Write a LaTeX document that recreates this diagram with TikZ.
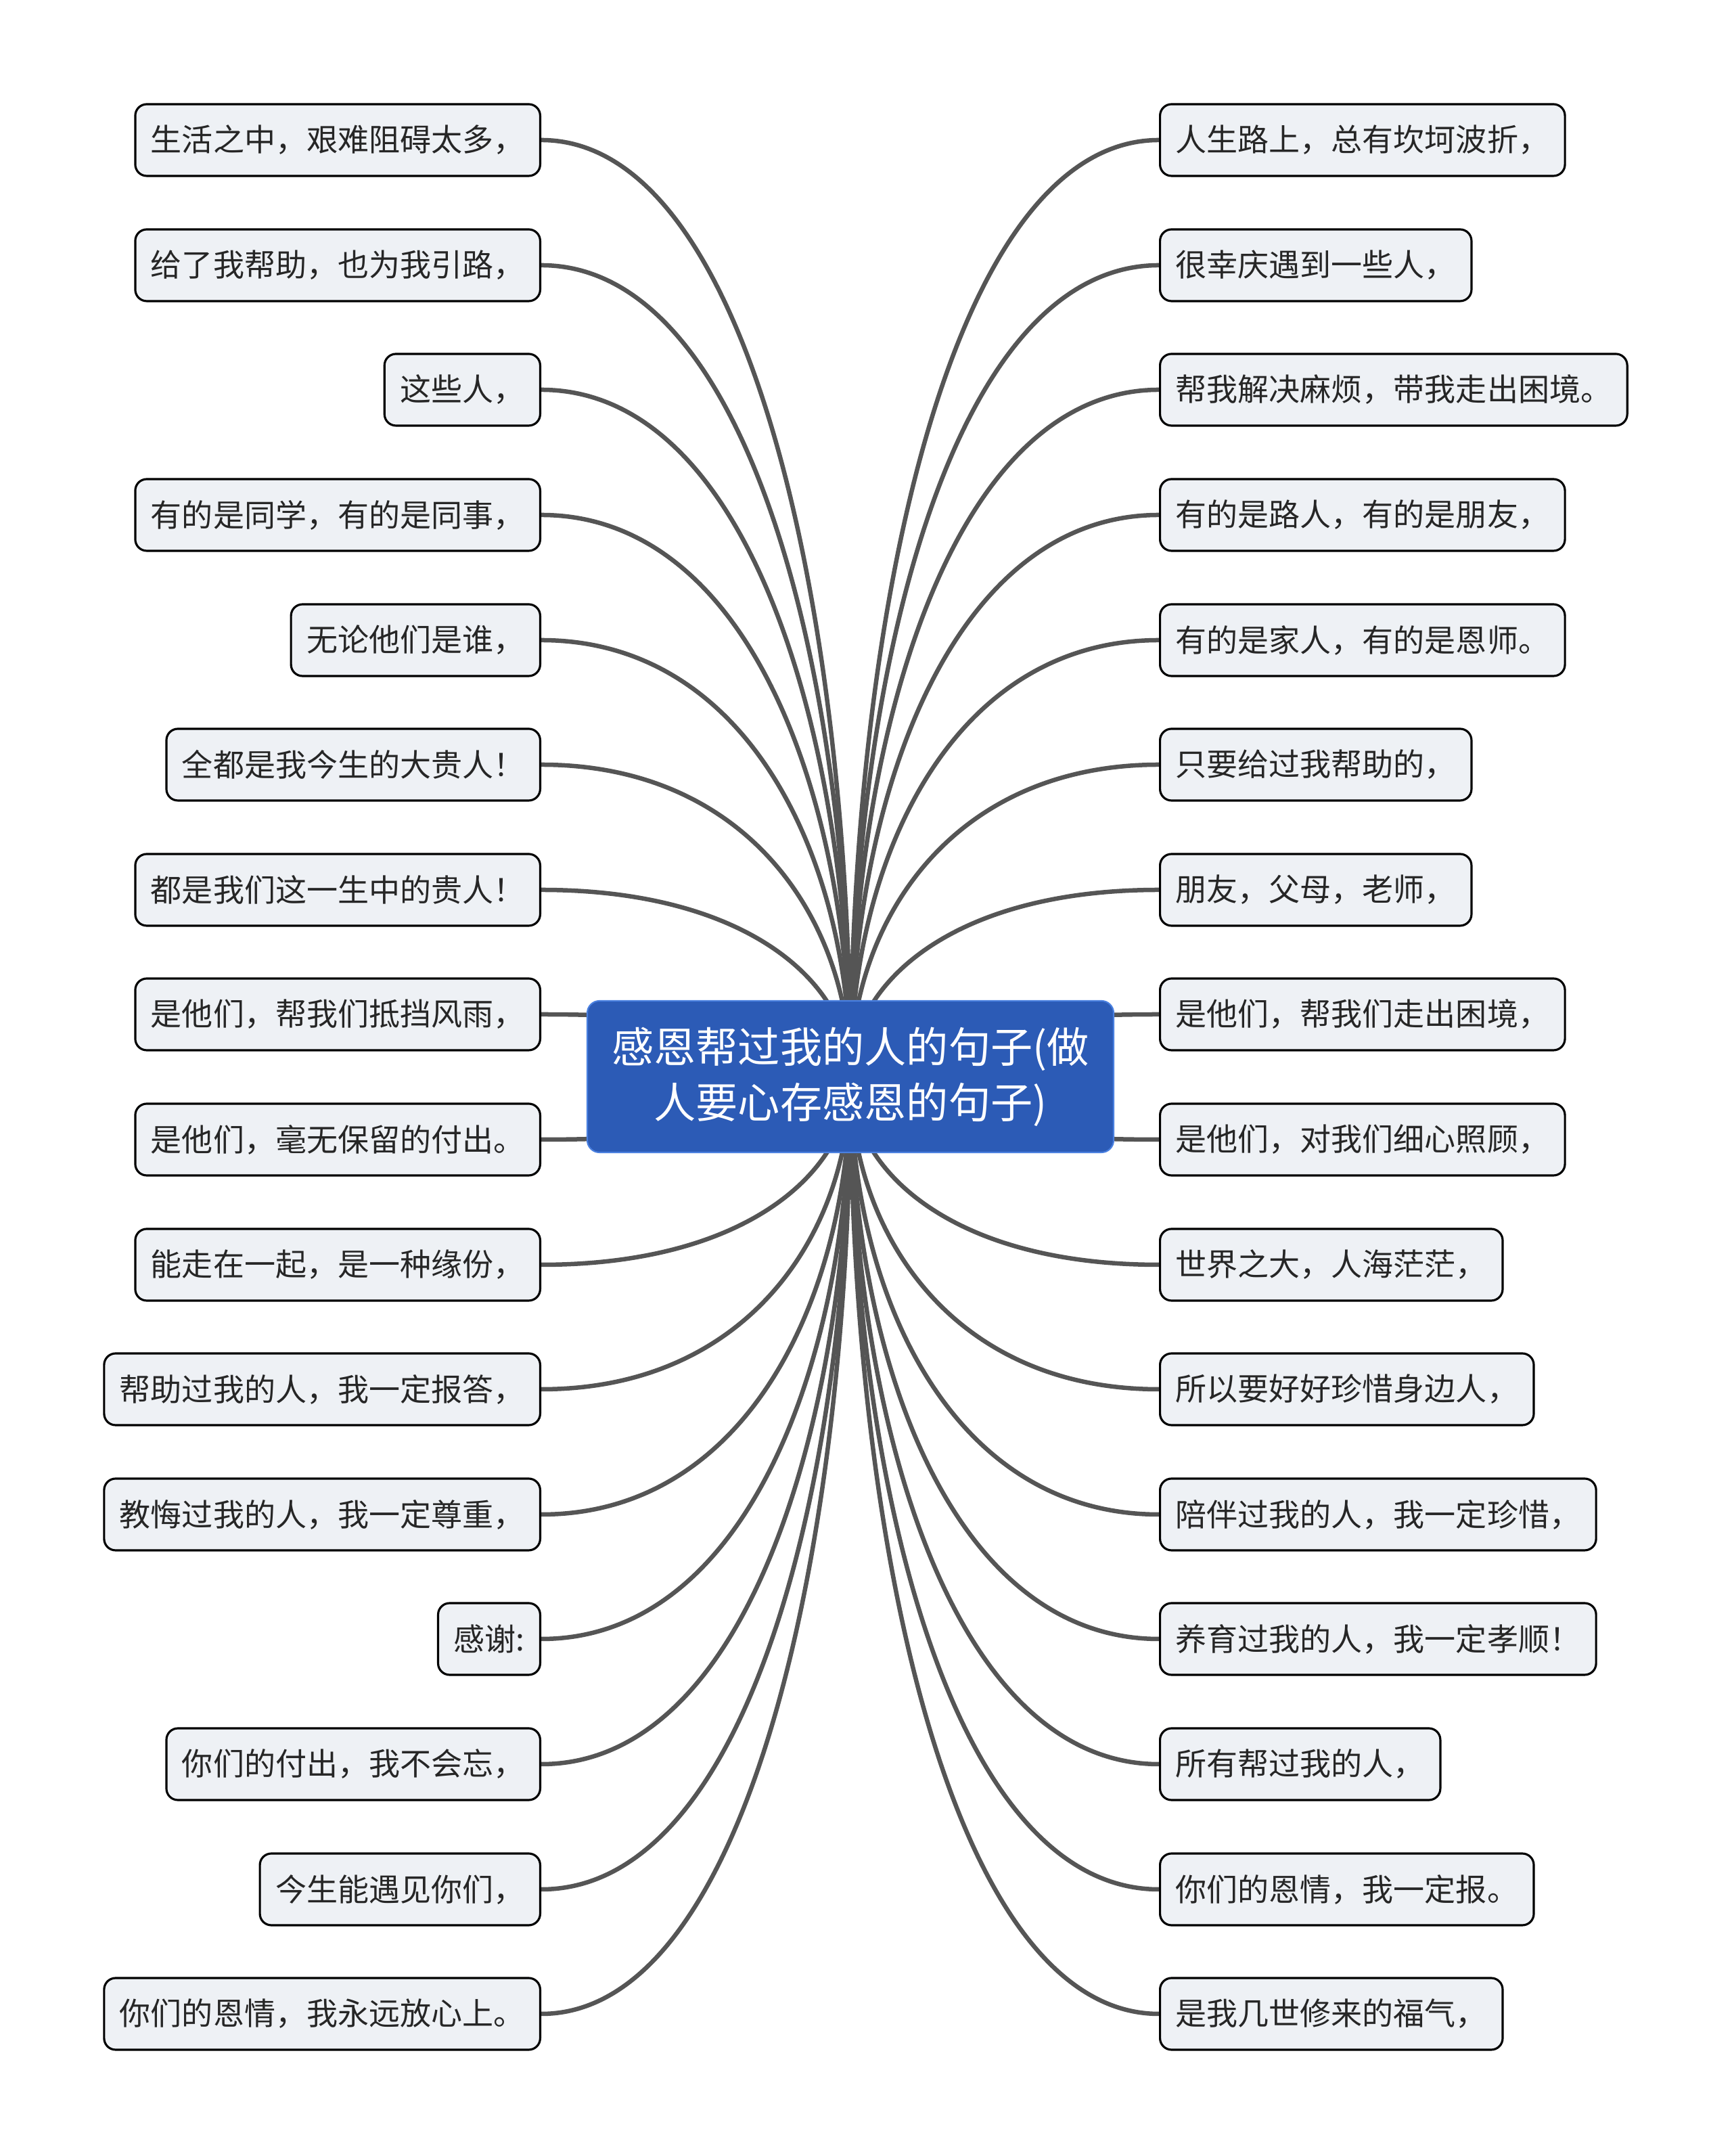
\documentclass[tikz,border=0pt]{standalone}
\usepackage{fontspec}
\setmainfont{Noto Sans CJK SC}
\usetikzlibrary{calc,backgrounds}

\definecolor{rootblue}{HTML}{2C5BB6}
\definecolor{rootedge}{HTML}{4A80E0}
\definecolor{leaffill}{HTML}{EEF1F5}
\definecolor{branchgray}{HTML}{555555}
\definecolor{leaftext}{HTML}{262626}

\tikzset{
    rootbox/.style={draw=rootedge, line width=0.6pt, fill=rootblue,
        rounded corners=0.18cm, minimum width=7.78cm, minimum height=2.24cm,
        text=white, align=center,
        font=\fontsize{17.7pt}{23.4pt}\selectfont},
    leafbox/.style={draw=black, line width=0.9pt, fill=leaffill,
        rounded corners=0.17cm, minimum height=1.06cm, inner xsep=0.23cm,
        text=leaftext, font=\fontsize{13.1pt}{15pt}\selectfont},
    leftleaf/.style={leafbox, anchor=east},
    rightleaf/.style={leafbox, anchor=west},
    branch/.style={draw=branchgray, line width=1.85pt}
}

\begin{document}
\begin{tikzpicture}
    \useasboundingbox (0, 0) rectangle (25.6, 31.86);

    \node[rootbox] (root) at (12.57, 15.95)
        {感恩帮过我的人的句子(做\\人要心存感恩的句子)};

    % left side
    \node[leftleaf] (l1) at (8.0, 29.79) {生活之中，艰难阻碍太多，};
    \node[leftleaf] (l2) at (8.0, 27.94) {给了我帮助，也为我引路，};
    \node[leftleaf] (l3) at (8.0, 26.10) {这些人，};
    \node[leftleaf] (l4) at (8.0, 24.25) {有的是同学，有的是同事，};
    \node[leftleaf] (l5) at (8.0, 22.40) {无论他们是谁，};
    \node[leftleaf] (l6) at (8.0, 20.56) {全都是我今生的大贵人！};
    \node[leftleaf] (l7) at (8.0, 18.71) {都是我们这一生中的贵人！};
    \node[leftleaf] (l8) at (8.0, 16.87) {是他们，帮我们抵挡风雨，};
    \node[leftleaf] (l9) at (8.0, 15.02) {是他们，毫无保留的付出。};
    \node[leftleaf] (l10) at (8.0, 13.17) {能走在一起，是一种缘份，};
    \node[leftleaf] (l11) at (8.0, 11.33) {帮助过我的人，我一定报答，};
    \node[leftleaf] (l12) at (8.0, 9.48) {教悔过我的人，我一定尊重，};
    \node[leftleaf] (l13) at (8.0, 7.64) {感谢:};
    \node[leftleaf] (l14) at (8.0, 5.79) {你们的付出，我不会忘，};
    \node[leftleaf] (l15) at (8.0, 3.94) {今生能遇见你们，};
    \node[leftleaf] (l16) at (8.0, 2.10) {你们的恩情，我永远放心上。};

    % right side
    \node[rightleaf] (r1) at (17.13, 29.79) {人生路上，总有坎坷波折，};
    \node[rightleaf] (r2) at (17.13, 27.94) {很幸庆遇到一些人，};
    \node[rightleaf] (r3) at (17.13, 26.10) {帮我解决麻烦，带我走出困境。};
    \node[rightleaf] (r4) at (17.13, 24.25) {有的是路人，有的是朋友，};
    \node[rightleaf] (r5) at (17.13, 22.40) {有的是家人，有的是恩师。};
    \node[rightleaf] (r6) at (17.13, 20.56) {只要给过我帮助的，};
    \node[rightleaf] (r7) at (17.13, 18.71) {朋友，父母，老师，};
    \node[rightleaf] (r8) at (17.13, 16.87) {是他们，帮我们走出困境，};
    \node[rightleaf] (r9) at (17.13, 15.02) {是他们，对我们细心照顾，};
    \node[rightleaf] (r10) at (17.13, 13.17) {世界之大，人海茫茫，};
    \node[rightleaf] (r11) at (17.13, 11.33) {所以要好好珍惜身边人，};
    \node[rightleaf] (r12) at (17.13, 9.48) {陪伴过我的人，我一定珍惜，};
    \node[rightleaf] (r13) at (17.13, 7.64) {养育过我的人，我一定孝顺！};
    \node[rightleaf] (r14) at (17.13, 5.79) {所有帮过我的人，};
    \node[rightleaf] (r15) at (17.13, 3.94) {你们的恩情，我一定报。};
    \node[rightleaf] (r16) at (17.13, 2.10) {是我几世修来的福气，};

    % branches, behind the boxes
    \begin{scope}[on background layer]
        \foreach \i in {1,...,16} {
            \draw[branch]
                (l\i.east) .. controls +(3.05, 0)
                and ($(root.center)!0.5!(root.center |- l\i.east)$)
                .. (root.center);
            \draw[branch]
                (r\i.west) .. controls +(-3.05, 0)
                and ($(root.center)!0.5!(root.center |- r\i.west)$)
                .. (root.center);
        }
    \end{scope}
\end{tikzpicture}
\end{document}
